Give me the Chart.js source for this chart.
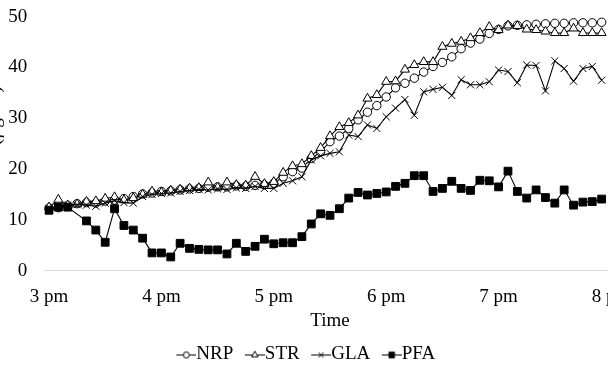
<!DOCTYPE html>
<html>
<head>
<meta charset="utf-8">
<script src="https://cdn.jsdelivr.net/npm/chart.js@4.4.1/dist/chart.umd.min.js"></script>
<style>
  html, body { margin: 0; padding: 0; background: #fff; overflow: hidden; width: 608px; height: 374px; }
  #grafico { position: absolute; left: -20px; top: 0; }
</style>
</head>
<body>
<canvas id="grafico" width="650" height="374"></canvas>
<script>
// eixo x: minutos desde as 3 pm, um ponto a cada 5 minutos
const stepMinutes = 5;
const tickMinutes = [0, 60, 120, 180, 240, 300];
const tickLabels = ['3 pm', '4 pm', '5 pm', '6 pm', '7 pm', '8 pm'];
const seriesNames = ['NRP', 'STR', 'GLA', 'PFA'];

const nrp = [12.3, 12.4, 12.8, 13.2, 13.4, 13.3, 13.7, 13.9, 14.2, 14.6, 15.1, 15.3, 15.6, 15.7, 15.9, 16.1, 16.2, 16.4, 16.5, 16.5, 16.7, 16.6, 16.8,
  16.9, 17.2, 18.5, 19.5, 20.2, 22.1, 23.4, 25.4, 26.5, 28.0, 29.7, 31.2, 32.5, 34.2, 36.0, 36.9, 37.9, 39.1, 40.2, 41.0, 42.1, 43.7, 44.8, 45.6, 46.7, 47.5, 48.2, 48.3, 48.4, 48.5, 48.6, 48.7, 48.7, 48.8, 48.8, 48.8, 48.9];
const str = [12.5, 14.0, 12.9, 13.1, 13.6, 13.7, 14.2, 14.5, 13.9, 14.3, 15.0, 15.6, 15.4, 15.8, 16.0, 16.2, 16.3, 17.4, 16.4, 17.4, 16.9, 16.8, 18.5,
  17.1, 17.5, 19.3, 20.6, 21.0, 22.6, 24.2, 26.5, 28.3, 29.1, 30.6, 33.9, 34.6, 37.2, 37.3, 39.6, 40.5, 41.1, 41.1, 44.1, 44.7, 45.1, 45.8, 46.8, 48.0, 47.4, 48.3, 48.2, 47.5, 47.4, 47.1, 46.8, 46.8, 47.7, 46.8, 46.8, 46.8];
const gla = [12.2, 12.8, 12.9, 13.0, 12.9, 12.7, 13.3, 13.8, 13.4, 13.3, 14.6, 15.0, 15.2, 15.3, 15.6, 15.8, 16.0, 15.9, 16.1, 16.0, 16.3, 16.2, 16.6,
  16.2, 16.2, 17.2, 17.7, 18.5, 21.8, 22.6, 23.1, 23.4, 26.7, 26.4, 28.7, 28.0, 30.3, 32.0, 33.7, 30.6, 35.2, 35.7, 36.1, 34.5, 37.6, 36.6, 36.6, 37.2, 39.5, 39.2, 37.0, 40.5, 40.4, 35.4, 41.3, 39.8, 37.3, 39.8, 40.2, 37.5];
// ponto 3 não aparece no gráfico original (linha passa direto)
const pfa = [11.9, 12.5, 12.5, null, 9.8, 8.0, 5.6, 12.2, 8.9, 8.0, 6.4, 3.5, 3.5, 2.7, 5.4, 4.4, 4.2, 4.1, 4.1, 3.3, 5.4, 3.8, 4.8, 6.2, 5.3, 5.5, 5.5, 6.7, 9.2, 11.2,
  10.9, 12.2, 14.3, 15.4, 14.9, 15.2, 15.5, 16.6, 17.2, 18.7, 18.7, 15.6, 16.2, 17.6, 16.2, 15.8, 17.8, 17.7, 16.5, 19.6, 15.6, 14.3, 15.9, 14.4, 13.3, 15.9, 12.9, 13.5, 13.6, 14.1];

const FONT = "'Liberation Serif', 'Times New Roman', serif";
Chart.defaults.color = '#000';
Chart.defaults.font.family = FONT;
Chart.defaults.font.size = 19;

const toPoints = arr => arr.map((v, i) => ({ x: i * stepMinutes, y: v }));

// estilos dos marcadores (estilo Excel)
const estilos = [
  { pointStyle: 'circle', radius: 4.2, fill: '#fff' },
  { pointStyle: 'triangle', radius: 5.2, fill: '#fff' },
  { pointStyle: 'crossRot', radius: 5, fill: '#fff' },
  { pointStyle: 'rect', radius: 5.5, fill: '#000' }
];

// ícone da legenda: linha curta com o marcador, deslocada para a direita
// (o Chart.js centra a imagem na caixa; assim ela encosta no texto)
function iconeLegenda(est) {
  const c = document.createElement('canvas');
  c.width = 31; c.height = 12;
  const g = c.getContext('2d');
  g.strokeStyle = '#000';
  g.lineWidth = 1;
  g.beginPath(); g.moveTo(11, 6.5); g.lineTo(31, 6.5); g.stroke();
  g.fillStyle = est.fill;
  Chart.helpers.drawPoint(g, { pointStyle: est.pointStyle, radius: est.radius * 0.72, rotation: 0, borderWidth: 1 }, 21, 6.5);
  return c;
}

// tira o espaço extra que as escalas reservam para os rótulos das pontas
const semPaddingV = (s, w) => { s.width = w; s.paddingTop = 0; s.paddingBottom = 0; };
const semPaddingH = (s) => { s.paddingLeft = 0; s.paddingRight = 0; };

const dados = [nrp, str, gla, pfa];
const datasets = dados.map((arr, k) => ({
  label: seriesNames[k],
  data: toPoints(arr),
  borderColor: '#000',
  borderWidth: 1.1,
  pointStyle: estilos[k].pointStyle,
  pointRadius: estilos[k].radius,
  pointBackgroundColor: estilos[k].fill,
  pointBorderColor: '#000',
  pointBorderWidth: 1,
  tension: 0,
  spanGaps: true,
  order: 3 - k
}));

const ctx = document.getElementById('grafico').getContext('2d');
const chart = new Chart(ctx, {
  type: 'line',
  data: { datasets },
  options: {
    responsive: false,
    animation: false,
    devicePixelRatio: 1,
    layout: { autoPadding: false, padding: { top: 16.7, left: 0, right: 0, bottom: 0 } },
    plugins: {
      tooltip: { enabled: false },
      legend: {
        position: 'bottom',
        labels: {
          usePointStyle: true,
          pointStyleWidth: 12,
          padding: 10,
          color: '#000',
          font: { size: 19, family: FONT },
          generateLabels: (ch) => ch.data.datasets.map((ds, i) => ({
            text: ds.label,
            pointStyle: iconeLegenda(estilos[i]),
            fillStyle: '#000',
            strokeStyle: '#000',
            lineWidth: 0,
            fontColor: '#000',
            hidden: false,
            datasetIndex: i
          }))
        }
      }
    },
    scales: {
      x: {
        type: 'linear',
        min: -2.5,
        max: 302.5,
        grid: { display: false, drawTicks: false },
        border: { display: true, color: '#d9d9d9', width: 1 },
        afterBuildTicks: (s) => { s.ticks = tickMinutes.map(v => ({ value: v })); },
        afterFit: semPaddingH,
        ticks: {
          autoSkip: false,
          maxRotation: 0,
          padding: 15,
          callback: (v) => tickLabels[tickMinutes.indexOf(v)] ?? ''
        },
        title: { display: true, text: 'Time', padding: { top: -13.9, bottom: 2.6 } }
      },
      y: {
        min: 0,
        max: 50,
        grid: { display: false, drawTicks: false },
        border: { display: false },
        ticks: { stepSize: 10, padding: 17 },
        title: { display: true, text: 'PM2.5 (µg/m³)', padding: { top: 4, bottom: 0 } },
        afterFit: (s) => semPaddingV(s, 64.3)
      },
      // espaço vazio à direita para a legenda ficar centrada como no original
      yR: {
        position: 'right',
        display: true,
        grid: { display: false },
        border: { display: false },
        ticks: { display: false },
        afterFit: (s) => semPaddingV(s, 14.3)
      }
    }
  }
});
</script>
</body>
</html>
